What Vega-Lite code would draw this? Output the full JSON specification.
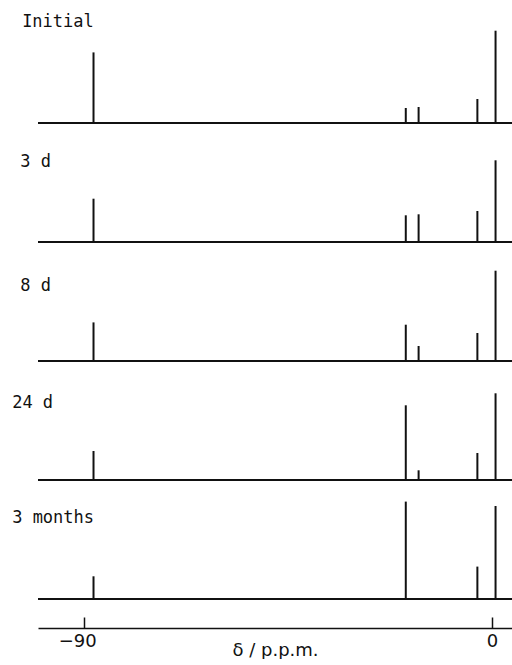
{
  "$schema": "https://vega.github.io/schema/vega-lite/v6.json",
  "autosize": {"type": "pad"},
  "padding": {"left": 12, "top": 5, "right": 0, "bottom": 0},
  "background": "white",
  "config": {"view": {"stroke": null}, "font": "DejaVu Sans", "concat": {"spacing": 0}},
  "data": {"values": [
    {"panel": "Initial", "ppm": -87.95, "h": 70.6},
    {"panel": "Initial", "ppm": -19.04, "h": 15},
    {"panel": "Initial", "ppm": -16.21, "h": 16},
    {"panel": "Initial", "ppm": -3.24, "h": 24},
    {"panel": "Initial", "ppm": 0.77, "h": 92.3},
    {"panel": "3 d", "ppm": -87.95, "h": 43.3},
    {"panel": "3 d", "ppm": -19.04, "h": 26.7},
    {"panel": "3 d", "ppm": -16.21, "h": 27.7},
    {"panel": "3 d", "ppm": -3.24, "h": 31},
    {"panel": "3 d", "ppm": 0.77, "h": 81.7},
    {"panel": "8 d", "ppm": -87.95, "h": 38.6},
    {"panel": "8 d", "ppm": -19.04, "h": 36.3},
    {"panel": "8 d", "ppm": -16.21, "h": 15},
    {"panel": "8 d", "ppm": -3.24, "h": 28},
    {"panel": "8 d", "ppm": 0.77, "h": 90.3},
    {"panel": "24 d", "ppm": -87.95, "h": 29},
    {"panel": "24 d", "ppm": -19.04, "h": 74.7},
    {"panel": "24 d", "ppm": -16.21, "h": 9.7},
    {"panel": "24 d", "ppm": -3.24, "h": 27},
    {"panel": "24 d", "ppm": 0.77, "h": 86.7},
    {"panel": "3 months", "ppm": -87.95, "h": 22.7},
    {"panel": "3 months", "ppm": -19.04, "h": 97.4},
    {"panel": "3 months", "ppm": -3.24, "h": 32.4},
    {"panel": "3 months", "ppm": 0.77, "h": 93}
  ]},
  "spacing": 0,
  "vconcat": [
    {
      "width": 474, "height": 118,
      "transform": [{"filter": "datum.panel == 'Initial'"}],
      "layer": [
        {"mark": {"type": "rule", "strokeWidth": 2, "color": "#111"},
         "encoding": {"y": {"datum": 0, "type": "quantitative", "scale": {"domain": [0, 118], "nice": false}, "axis": null}}},
        {"mark": {"type": "rule", "strokeWidth": 2, "color": "#111"},
         "encoding": {
           "x": {"field": "ppm", "type": "quantitative", "scale": {"domain": [-100.2, 4.4], "nice": false, "zero": false}, "axis": null},
           "y": {"field": "h", "type": "quantitative", "scale": {"domain": [0, 118], "nice": false}, "axis": null},
           "y2": {"datum": 0}}},
        {"transform": [{"filter": "datum.ppm < -50"}],
         "mark": {"type": "text", "align": "left", "baseline": "middle", "font": "DejaVu Sans Mono", "fontSize": 17, "color": "#111", "clip": false},
         "encoding": {"text": {"field": "panel"}, "x": {"datum": -103.7, "type": "quantitative"}, "y": {"datum": 101, "type": "quantitative"}}}
      ]
    },
    {
      "width": 474, "height": 118,
      "transform": [{"filter": "datum.panel == '3 d'"}],
      "layer": [
        {"mark": {"type": "rule", "strokeWidth": 2, "color": "#111"},
         "encoding": {"y": {"datum": 0, "type": "quantitative", "scale": {"domain": [0, 118], "nice": false}, "axis": null}}},
        {"mark": {"type": "rule", "strokeWidth": 2, "color": "#111"},
         "encoding": {
           "x": {"field": "ppm", "type": "quantitative", "scale": {"domain": [-100.2, 4.4], "nice": false, "zero": false}, "axis": null},
           "y": {"field": "h", "type": "quantitative", "scale": {"domain": [0, 118], "nice": false}, "axis": null},
           "y2": {"datum": 0}}},
        {"transform": [{"filter": "datum.ppm < -50"}],
         "mark": {"type": "text", "align": "left", "baseline": "middle", "font": "DejaVu Sans Mono", "fontSize": 17, "color": "#111", "clip": false},
         "encoding": {"text": {"field": "panel"}, "x": {"datum": -104.1, "type": "quantitative"}, "y": {"datum": 80, "type": "quantitative"}}}
      ]
    },
    {
      "width": 474, "height": 118,
      "transform": [{"filter": "datum.panel == '8 d'"}],
      "layer": [
        {"mark": {"type": "rule", "strokeWidth": 2, "color": "#111"},
         "encoding": {"y": {"datum": 0, "type": "quantitative", "scale": {"domain": [0, 118], "nice": false}, "axis": null}}},
        {"mark": {"type": "rule", "strokeWidth": 2, "color": "#111"},
         "encoding": {
           "x": {"field": "ppm", "type": "quantitative", "scale": {"domain": [-100.2, 4.4], "nice": false, "zero": false}, "axis": null},
           "y": {"field": "h", "type": "quantitative", "scale": {"domain": [0, 118], "nice": false}, "axis": null},
           "y2": {"datum": 0}}},
        {"transform": [{"filter": "datum.ppm < -50"}],
         "mark": {"type": "text", "align": "left", "baseline": "middle", "font": "DejaVu Sans Mono", "fontSize": 17, "color": "#111", "clip": false},
         "encoding": {"text": {"field": "panel"}, "x": {"datum": -104.1, "type": "quantitative"}, "y": {"datum": 75, "type": "quantitative"}}}
      ]
    },
    {
      "width": 474, "height": 118,
      "transform": [{"filter": "datum.panel == '24 d'"}],
      "layer": [
        {"mark": {"type": "rule", "strokeWidth": 2, "color": "#111"},
         "encoding": {"y": {"datum": 0, "type": "quantitative", "scale": {"domain": [0, 118], "nice": false}, "axis": null}}},
        {"mark": {"type": "rule", "strokeWidth": 2, "color": "#111"},
         "encoding": {
           "x": {"field": "ppm", "type": "quantitative", "scale": {"domain": [-100.2, 4.4], "nice": false, "zero": false}, "axis": null},
           "y": {"field": "h", "type": "quantitative", "scale": {"domain": [0, 118], "nice": false}, "axis": null},
           "y2": {"datum": 0}}},
        {"transform": [{"filter": "datum.ppm < -50"}],
         "mark": {"type": "text", "align": "left", "baseline": "middle", "font": "DejaVu Sans Mono", "fontSize": 17, "color": "#111", "clip": false},
         "encoding": {"text": {"field": "panel"}, "x": {"datum": -105.9, "type": "quantitative"}, "y": {"datum": 77, "type": "quantitative"}}}
      ]
    },
    {
      "width": 474, "height": 118,
      "transform": [{"filter": "datum.panel == '3 months'"}],
      "layer": [
        {"mark": {"type": "rule", "strokeWidth": 2, "color": "#111"},
         "encoding": {"y": {"datum": 0, "type": "quantitative", "scale": {"domain": [0, 118], "nice": false}, "axis": null}}},
        {"mark": {"type": "rule", "strokeWidth": 2, "color": "#111"},
         "encoding": {
           "x": {"field": "ppm", "type": "quantitative",
             "scale": {"domain": [-100.2, 4.4], "nice": false, "zero": false},
             "axis": {"values": [-90, 0], "offset": 29, "tickSize": -11, "tickWidth": 1.5, "tickColor": "#111",
               "domainWidth": 1.5, "domainColor": "#111", "grid": false,
               "labelFontSize": 18, "labelColor": "#111", "labelPadding": 15, "labelFont": "DejaVu Sans",
               "labelOffset": {"expr": "datum.value < 0 ? -7 : 0"},
               "title": "δ / p.p.m.", "titleFontSize": 18, "titleFontWeight": "normal", "titleColor": "#111",
               "titlePadding": -9, "titleFont": "DejaVu Sans"}},
           "y": {"field": "h", "type": "quantitative", "scale": {"domain": [0, 118], "nice": false}, "axis": null},
           "y2": {"datum": 0}}},
        {"transform": [{"filter": "datum.ppm < -50"}],
         "mark": {"type": "text", "align": "left", "baseline": "middle", "font": "DejaVu Sans Mono", "fontSize": 17, "color": "#111", "clip": false},
         "encoding": {"text": {"field": "panel"}, "x": {"datum": -105.9, "type": "quantitative"}, "y": {"datum": 81, "type": "quantitative"}}}
      ]
    }
  ]
}
